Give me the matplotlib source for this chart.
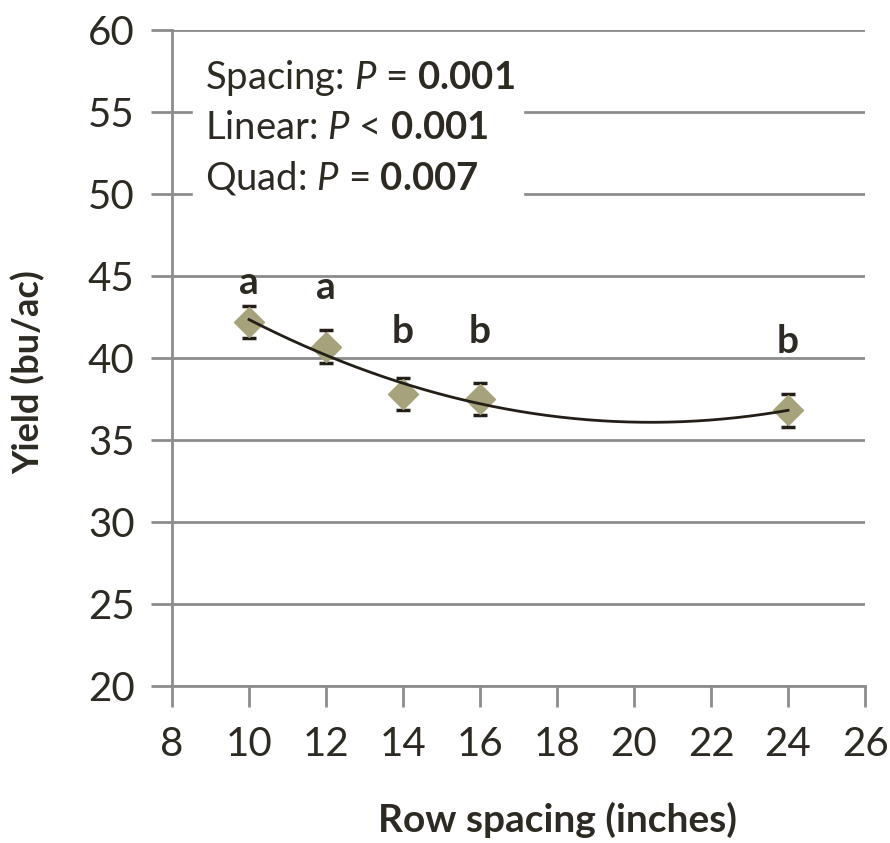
import numpy as np
import matplotlib
matplotlib.use("Agg")
import matplotlib.pyplot as plt

row_spacing = [10, 12, 14, 16, 24]
yield_bu = [42.2, 40.7, 37.8, 37.5, 36.8]
yield_err = [1.0, 1.0, 1.0, 1.0, 1.0]
letters = ["a", "a", "b", "b", "b"]
letter_y = [44.6, 44.3, 41.6, 41.6, 41.0]
x_ticks = [8, 10, 12, 14, 16, 18, 20, 22, 24, 26]
y_ticks = [20, 25, 30, 35, 40, 45, 50, 55, 60]

TXT = "#2d2a23"
GRID = "#8c8c8c"
MK = "#a5a27c"

plt.rcParams['font.family'] = ['Lato', 'DejaVu Sans']
plt.rcParams['mathtext.fontset'] = 'custom'
plt.rcParams['mathtext.it'] = 'Lato:italic'
plt.rcParams['mathtext.bf'] = 'Lato:bold'
plt.rcParams['mathtext.rm'] = 'Lato'

fig = plt.figure(figsize=(8.9, 8.43), dpi=100)
ax = fig.add_axes([172/890, 1 - 686/843, (865-172)/890, (686-30)/843])
ax.set_xlim(8, 26)
ax.set_ylim(20, 60)
ax.set_xticks(x_ticks)
ax.set_yticks(y_ticks)
ax.grid(axis='y', color=GRID, linewidth=2)
ax.set_axisbelow(True)
for s in ['top', 'right']:
    ax.spines[s].set_visible(False)
for s in ['left', 'bottom']:
    ax.spines[s].set_color(GRID)
    ax.spines[s].set_linewidth(2)
ax.tick_params(axis='both', colors=GRID, width=2, length=15, labelcolor=TXT, labelsize=29)
ax.tick_params(axis='x', pad=14)
ax.tick_params(axis='y', pad=12)

# quadratic trend line
coef = np.polyfit(row_spacing, yield_bu, 2)
xs = np.linspace(min(row_spacing), max(row_spacing), 200)
ax.plot(xs, np.polyval(coef, xs), color="#231f18", lw=2, zorder=4)

ax.errorbar(row_spacing, yield_bu, yerr=yield_err, fmt='none', ecolor="#231f18",
            elinewidth=1.5, capsize=5, capthick=2.5, zorder=2)
ax.plot(row_spacing, yield_bu, 'D', color=MK, markersize=15, zorder=3)

for x, y, l in zip(row_spacing, letter_y, letters):
    ax.text(x, y, l, ha='center', va='center', fontsize=28, fontweight='bold', color=TXT)

# stats box
fig.patches.append(plt.Rectangle((193/890, 1 - 205/843), (523-193)/890, (205-45)/843,
                                 transform=fig.transFigure, color='white', zorder=5))
lines = [r"Spacing: $\mathit{P}$ = $\mathbf{0.001}$",
         r"Linear: $\mathit{P}$ < $\mathbf{0.001}$",
         r"Quad: $\mathit{P}$ = $\mathbf{0.007}$"]
for i, t in enumerate(lines):
    fig.text(205/890, 1 - (78 + i*50)/843, t, ha='left', va='center', fontsize=27.5,
             color=TXT, zorder=6)

fig.text(558/890, 1 - 820/843, "Row spacing (inches)", ha='center', va='center',
         fontsize=28, fontweight='bold', color=TXT)
fig.text(28/890, 1 - 372/843, "Yield (bu/ac)", ha='center', va='center', rotation=90,
         fontsize=26, fontweight='bold', color=TXT)

fig.savefig("out.png", dpi=100)
